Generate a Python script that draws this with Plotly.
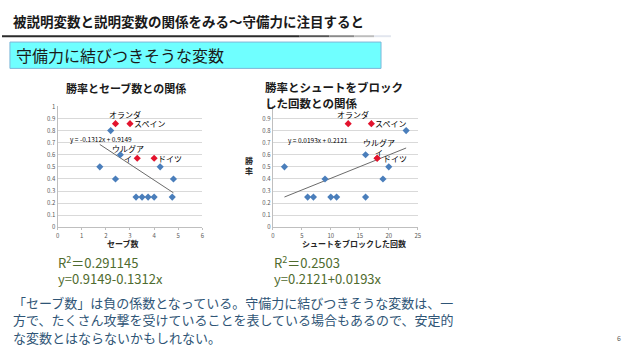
import plotly.graph_objects as go

# ---- data ----
teams_hl = ["オランダ", "スペイン", "ウルグアイ", "ドイツ"]
win_hl = [0.857, 0.857, 0.571, 0.571]
saves_hl = [2.4, 3.0, 3.3, 4.0]
blocks_hl = [13, 17, 18, 18]

saves_other = [2.2, 2.6, 1.75, 4.25, 2.4, 4.8, 3.25, 3.5, 3.75, 4.0, 4.75]
win_other_left = [0.8, 0.6, 0.5, 0.5, 0.4, 0.4, 0.25, 0.25, 0.25, 0.25, 0.25]
blocks_other = [2, 6, 7, 10, 11, 16, 9, 16, 19, 20, 23]
win_other_right = [0.5, 0.25, 0.25, 0.25, 0.25, 0.25, 0.4, 0.6, 0.4, 0.5, 0.8]

coef_left = (0.9149, -0.1312)   # intercept, slope
coef_right = (0.2121, 0.0193)
trend_x_left = [1.75, 4.8]
trend_x_right = [2, 23]

W, H = 640, 361
def px(x): return x / W
def py(y): return 1 - y / H

BLUE = "#4a7ebb"
RED = "#e3132d"
GRID = "#d9d9d9"
TICK = "#595959"
FONT = "Noto Sans CJK JP"

fig = go.Figure()

def add_chart(xa, ya, xo, yo, xh, yh, coef, tx):
    fig.add_trace(go.Scatter(x=tx, y=[coef[0] + coef[1] * v for v in tx], mode="lines",
                             line=dict(color="#6b6b6b", width=1), xaxis=xa, yaxis=ya,
                             hoverinfo="skip", showlegend=False))
    fig.add_trace(go.Scatter(x=xo, y=yo, mode="markers",
                             marker=dict(symbol="diamond", size=5.5, color=BLUE),
                             xaxis=xa, yaxis=ya, showlegend=False))
    fig.add_trace(go.Scatter(x=xh, y=yh, mode="markers",
                             marker=dict(symbol="diamond", size=5.5, color=RED),
                             xaxis=xa, yaxis=ya, showlegend=False))

add_chart("x", "y", saves_other, win_other_left, saves_hl, win_hl, coef_left, trend_x_left)
add_chart("x2", "y2", blocks_other, win_other_right, blocks_hl, win_hl, coef_right, trend_x_right)

ydom = [py(228), py(104)]
axis_common = dict(showgrid=False, showline=True, linecolor="#bfbfbf", linewidth=1,
                   ticks="outside", ticklen=2, tickcolor="#bfbfbf",
                   tickfont=dict(size=6, color=TICK, family=FONT), zeroline=False)
yaxis_common = dict(range=[0, 1], dtick=0.1, showgrid=True, gridcolor=GRID, gridwidth=1,
                    showline=True, linecolor="#bfbfbf", zeroline=False, ticks="",
                    tickfont=dict(size=6, color=TICK, family=FONT))

fig.update_layout(
    width=W, height=H, margin=dict(l=0, r=0, t=0, b=0),
    paper_bgcolor="white", plot_bgcolor="white", showlegend=False,
    font=dict(family=FONT),
    xaxis=dict(domain=[px(56), px(202)], range=[0, 6], dtick=1, anchor="y", **axis_common),
    yaxis=dict(domain=ydom, anchor="x", **yaxis_common),
    xaxis2=dict(domain=[px(273), px(419)], range=[0, 25], dtick=5, anchor="y2", **axis_common),
    yaxis2=dict(domain=ydom, anchor="x2", **yaxis_common),
)

ann = []
def text(x, y, t, size, color="#000000", bold=False, xanchor="left", align="left"):
    ann.append(dict(x=px(x), y=py(y), xref="paper", yref="paper", text=(f"<b>{t}</b>" if bold else t),
                    showarrow=False, xanchor=xanchor, yanchor="middle", align=align, borderpad=0,
                    font=dict(size=size, color=color, family=FONT)))

# header
text(10, 16, "被説明変数と説明変数の関係をみる～守備力に注目すると", 13.5, "#1a1a1a", bold=True)
text(13, 51, "守備力に結びつきそうな変数", 16, "#1a1a1a")

# chart titles
text(125, 85, "勝率とセーブ数との関係", 11, "#1a1a1a", bold=True, xanchor="center")
text(264, 84, "勝率とシュートをブロック", 11.5, "#1a1a1a", bold=True)
text(264, 100, "した回数との関係", 11.5, "#1a1a1a", bold=True)

# axis titles
text(122, 245, "セーブ数", 8, "#262626", bold=True, xanchor="center")
text(355, 245, "シュートをブロックした回数", 8, "#262626", bold=True, xanchor="center")
text(249, 165, "勝<br>率", 8, "#262626", bold=True, xanchor="center", align="center")

# equation labels
text(100, 137, "y = -0.1312x + 0.9149", 6.5, "#000000", xanchor="center")
text(318, 138, "y = 0.0193x + 0.2121", 6.5, "#000000", xanchor="center")

# point labels
def plabel(xref, yref, x, y, t, xshift, yshift, xanchor="center"):
    ann.append(dict(x=x, y=y, xref=xref, yref=yref, text=t, showarrow=False,
                    xanchor=xanchor, yanchor="middle", align="center", borderpad=0,
                    xshift=xshift, yshift=yshift, font=dict(size=8, color="#000000", family=FONT)))

shifts_left = [(9, 9, "center"), (3, 0, "left"), (-9, 5, "center"), (3, 0, "left")]
shifts_right = [(5, 9, "center"), (3, 0, "left"), (2, 11, "center"), (5, 0, "left")]
names = ["オランダ", "スペイン", "ウルグア<br>イ", "ドイツ"]
for i in range(4):
    a, b, c = shifts_left[i]
    plabel("x", "y", saves_hl[i], win_hl[i], names[i], a, b, c)
    a, b, c = shifts_right[i]
    plabel("x2", "y2", blocks_hl[i], win_hl[i], names[i], a, b, c)

# regression results
GREEN = "#4f6b2e"
text(55, 264, "R<sup>2</sup>＝0.291145", 13, GREEN)
text(55, 281, "y=0.9149-0.1312x", 13, GREEN)
text(273, 264, "R<sup>2</sup>＝0.2503", 13, GREEN)
text(273, 281, "y=0.2121+0.0193x", 13, GREEN)

# paragraph
PCOL = "#2f5576"
text(10, 305, "「セーブ数」は負の係数となっている。守備力に結びつきそうな変数は、一", 13, PCOL)
text(10, 323, "方で、たくさん攻撃を受けていることを表している場合もあるので、安定的", 13, PCOL)
text(10, 341, "な変数とはならないかもしれない。", 13, PCOL)
text(622, 342, "6", 7, "#595959", xanchor="center")

fig.update_layout(annotations=ann)

# shapes: underline bar and cyan box
shapes = []
segs = [(0, 300, "#2b2b2b"), (300, 330, "#555555"), (330, 355, "#8a8a8a"),
        (355, 375, "#bdbdbd"), (375, 392, "#e2e6ee")]
for x0, x1, c in segs:
    shapes.append(dict(type="rect", xref="paper", yref="paper", x0=px(x0), x1=px(x1),
                       y0=py(33), y1=py(31), fillcolor=c, line=dict(width=0)))
shapes.append(dict(type="rect", xref="paper", yref="paper", x0=px(8), x1=px(382),
                   y0=py(65), y1=py(38), fillcolor="#6fffff",
                   line=dict(color="#7fb6d8", width=1), layer="below"))
fig.update_layout(shapes=shapes)

fig.write_html("out.html", config={"displayModeBar": False},
               post_script="document.body.style.margin='0';document.body.style.overflow='hidden';")
